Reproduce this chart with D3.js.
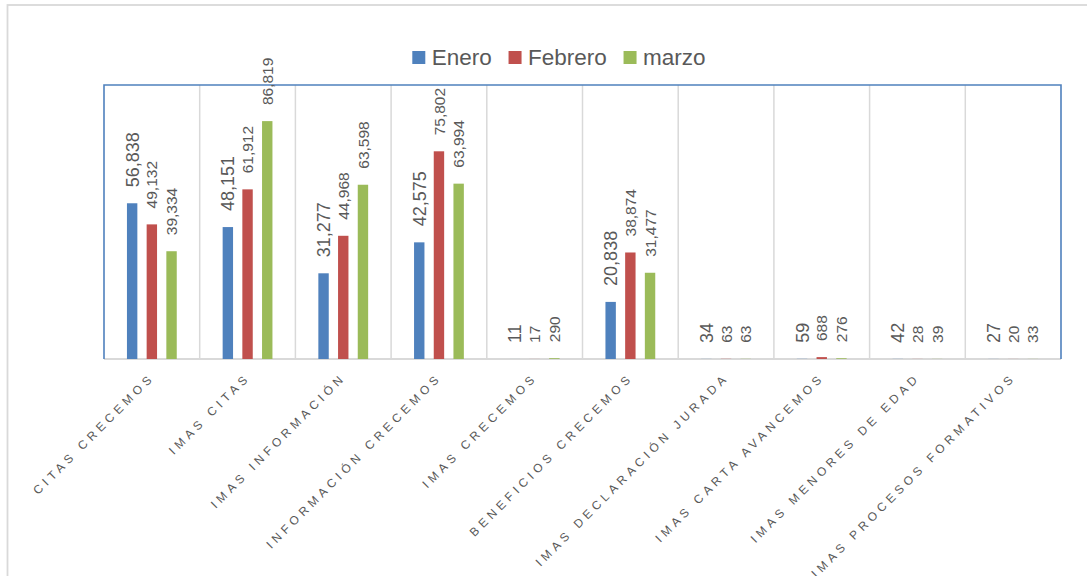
<!DOCTYPE html>
<html>
<head>
<meta charset="utf-8">
<script src="https://cdn.jsdelivr.net/npm/d3@7"></script>
<style>
  html, body { margin: 0; padding: 0; background: #ffffff; }
  svg { display: block; font-family: "Liberation Sans", Arial, sans-serif; }
</style>
</head>
<body>
<svg id="chart" width="1087" height="576"></svg>
<script>
// ---- data ----
const categories = [
  "CITAS CRECEMOS",
  "IMAS CITAS",
  "IMAS INFORMACIÓN",
  "INFORMACIÓN CRECEMOS",
  "IMAS CRECEMOS",
  "BENEFICIOS CRECEMOS",
  "IMAS DECLARACIÓN JURADA",
  "IMAS CARTA AVANCEMOS",
  "IMAS MENORES DE EDAD",
  "IMAS PROCESOS FORMATIVOS"
];
const series = ["Enero", "Febrero", "marzo"];
const enero   = [56838, 48151, 31277, 42575, 11, 20838, 34, 59, 42, 27];
const febrero = [49132, 61912, 44968, 75802, 17, 38874, 63, 688, 28, 20];
const marzo   = [39334, 86819, 63598, 63994, 290, 31477, 63, 276, 39, 33];
const yDomain = [0, 100000];

const seriesValues = [enero, febrero, marzo];
const colors = ["#4f81bd", "#c0504d", "#9bbb59"];

// ---- layout ----
const svg = d3.select("#chart");
const plot = { left: 104, right: 1061, top: 85, bottom: 359 };
const textColor = "#595959";
const gridColor = "#d9d9d9";

// outer chart frame
svg.append("rect")
  .attr("x", 7.5).attr("y", 5)
  .attr("width", 1120).attr("height", 640)
  .attr("fill", "none")
  .attr("stroke", gridColor)
  .attr("stroke-width", 1.8);

const x0 = d3.scaleBand().domain(categories).range([plot.left, plot.right]).padding(0);
const x1 = d3.scaleBand().domain(series).range([-24.9, 24.9]).paddingInner(0.472).paddingOuter(0);
const y = d3.scaleLinear().domain(yDomain).range([plot.bottom, plot.top]);

// vertical gridlines at category boundaries
svg.append("g").selectAll("line")
  .data(categories.slice(1))
  .join("line")
  .attr("x1", d => x0(d)).attr("x2", d => x0(d))
  .attr("y1", plot.top).attr("y2", plot.bottom)
  .attr("stroke", gridColor)
  .attr("stroke-width", 1.5);

// category axis (bottom) line
svg.append("line")
  .attr("x1", plot.left).attr("x2", plot.right)
  .attr("y1", plot.bottom).attr("y2", plot.bottom)
  .attr("stroke", gridColor)
  .attr("stroke-width", 1.8);

// bars
const rows = [];
categories.forEach((c, ci) => {
  series.forEach((s, si) => {
    rows.push({ c, s, si, v: seriesValues[si][ci] });
  });
});

svg.append("g").selectAll("rect")
  .data(rows)
  .join("rect")
  .attr("x", d => x0(d.c) + x0.bandwidth() / 2 + x1(d.s))
  .attr("width", x1.bandwidth())
  .attr("y", d => y(d.v))
  .attr("height", d => y(0) - y(d.v))
  .attr("fill", d => colors[d.si]);

// plot-area outline (blue, left/top/right)
svg.append("path")
  .attr("d", `M${plot.left},${plot.bottom}V${plot.top}H${plot.right}V${plot.bottom}`)
  .attr("fill", "none")
  .attr("stroke", "#4f81bd")
  .attr("stroke-width", 1.6);

// data labels
const fmt = d3.format(",");
svg.append("g").selectAll("text")
  .data(rows)
  .join("text")
  .attr("transform", d => {
    const cx = x0(d.c) + x0.bandwidth() / 2 + x1(d.s) + x1.bandwidth() / 2;
    return `translate(${cx},${y(d.v) - 16}) rotate(-90)`;
  })
  .attr("dy", "0.36em")
  .attr("text-anchor", "start")
  .attr("font-size", d => d.si === 0 ? 18 : 15.5)
  .attr("fill", textColor)
  .text(d => fmt(d.v));

// category labels
const ls = 4.2;
svg.append("g").selectAll("text")
  .data(categories)
  .join("text")
  .attr("transform", d => `translate(${x0(d) + x0.bandwidth() / 2 + 0.5},381) rotate(-45)`)
  .attr("x", ls)
  .attr("text-anchor", "end")
  .attr("font-size", 12)
  .attr("letter-spacing", ls + "px")
  .attr("fill", textColor)
  .text(d => d);

// legend
const legend = svg.append("g");
let lx = 412.3;
series.forEach((s, i) => {
  legend.append("rect")
    .attr("x", lx).attr("y", 51)
    .attr("width", 13).attr("height", 13)
    .attr("fill", colors[i]);
  const t = legend.append("text")
    .attr("x", lx + 19.4).attr("y", 65)
    .attr("font-size", 22.5)
    .attr("fill", textColor)
    .text(s);
  lx = lx + 19.4 + t.node().getComputedTextLength() + 16.8;
});
</script>
</body>
</html>
